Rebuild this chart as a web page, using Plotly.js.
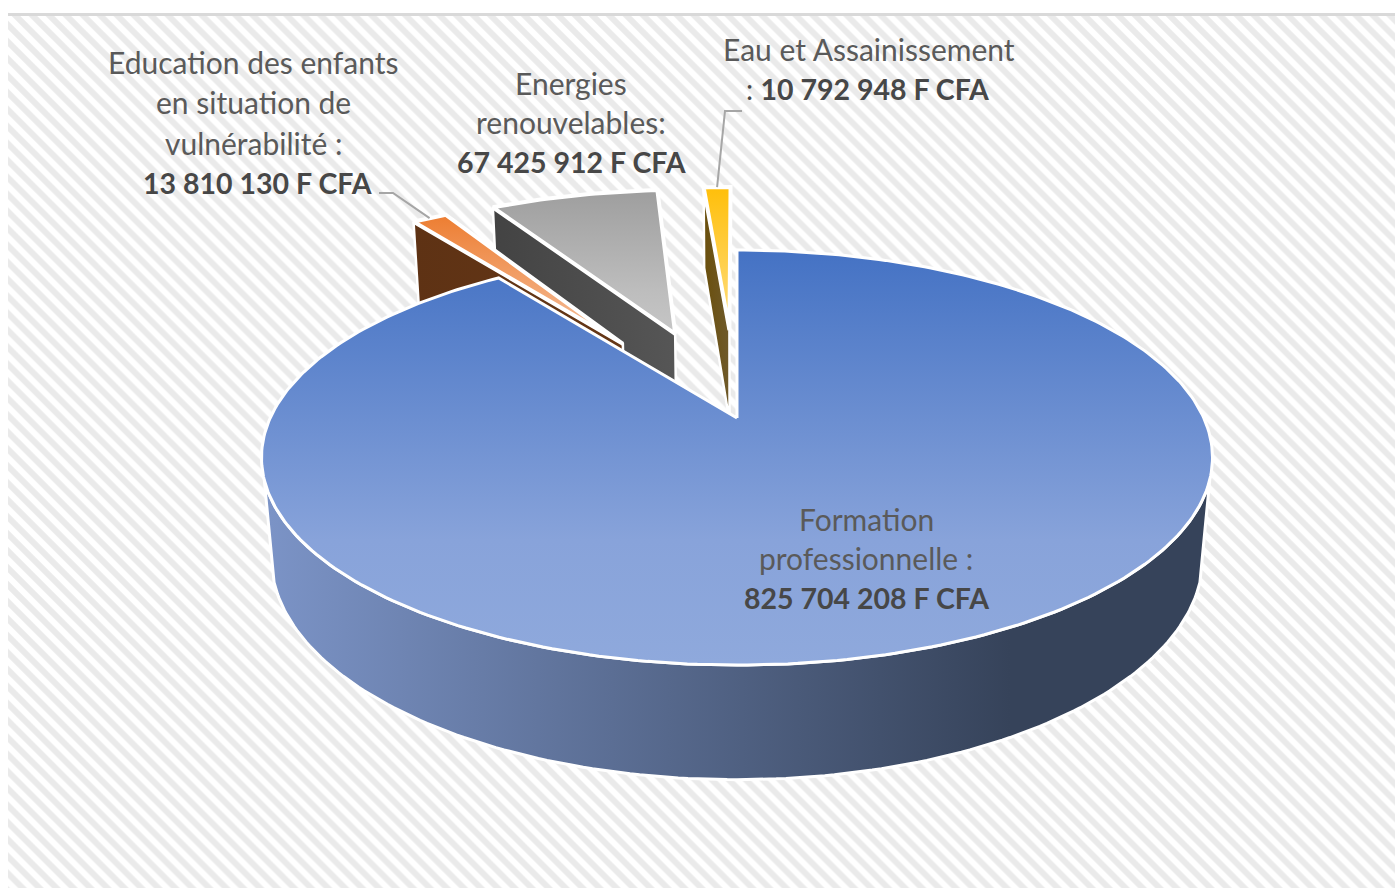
<!DOCTYPE html>
<html><head><meta charset="utf-8">
<script src="https://cdn.plot.ly/plotly-3.0.1.min.js"></script>
<style>html,body{margin:0;padding:0;background:#fff}#c{width:1395px;height:888px}</style>
</head><body><div id="c"></div>
<script>
// ---- data ----
const categories = ["Formation professionnelle","Education des enfants en situation de vulnérabilité","Energies renouvelables","Eau et Assainissement"];
const values = [825704208, 13810130, 67425912, 10792948];
const exploded = [0, 0.478, 0.48, 0.48];
const topColors = [["#4472C4","#88A3DA","#8FA9DC"],["#ED7D31","#F3AE80","#F6BE97"],["#9E9E9E","#BDBDBD","#C6C6C6"],["#FFBF0A","#FFD55F","#FFDD7A"]];
const wallColors = [["#7B93C6","#36435A"],["#5E3214","#653717"],["#434343","#565656"],["#6A4F0C","#6F5A2B"]];
const labelLines = [
  [["Formation",866,519],["professionnelle :",866,558],["<b>825 704 208 F CFA</b>",866,598]],
  [["Education des enfants",253,62],["en situation de",253,102],["vulnérabilité :",253,143],["<b>13 810 130 F CFA</b>",257,183]],
  [["Energies",571,83],["renouvelables:",571,122],["<b>67 425 912 F CFA</b>",571,162]],
  [["Eau et Assainissement",869,49],[": <b>10 792 948 F CFA</b>",867,89]]
];
// ---- view ----
const view = {cx:737, cy:418, R:466.8, H:200, k:0.1905, h:100, m:0.02};
const proj = (u,v,z) => { const w = 1+view.k*v+view.m*z;
  return [view.cx+view.R*u/w, view.cy-(view.H*v-view.h*z)/w]; };
const rad = d => d*Math.PI/180;
const total = values.reduce((a,b)=>a+b,0);
let acc = 0;
const slices = values.map((val,i)=>{ const t0=acc/total*360; acc+=val; const t1=acc/total*360;
  const b=rad((t0+t1)/2), e=exploded[i];
  return {t0,t1,ou:e*Math.sin(b),ov:e*Math.cos(b)}; });
const pt = (s,t,r,z) => proj(s.ou+r*Math.sin(rad(t)), s.ov+r*Math.cos(rad(t)), z);
const arc = (s,a,b,z) => { const n=Math.max(2,Math.ceil(Math.abs(b-a))), o=[];
  for(let j=0;j<=n;j++) o.push(pt(s,a+(b-a)*j/n,1,z)); return o; };
const scale = g => g.length===3 ? [[0,g[0]],[0.7,g[1]],[1,g[2]]] : [[0,g[0]],[1,g[1]]];
const poly = (pts,grad,lw,type,start,stop) => ({
  type:'scatter', mode:'lines', x:pts.map(p=>p[0]), y:pts.map(p=>p[1]), fill:'toself',
  fillgradient:{type:type, colorscale:scale(grad), start:start, stop:stop},
  line:{color:'#ffffff',width:lw}, hoverinfo:'skip', showlegend:false });
const topFace = i => { const s=slices[i], a=arc(s,s.t0,s.t1,0), c=pt(s,0,0,0);
  const P=[c,...a,c], ys=P.map(p=>p[1]);
  return poly(P,topColors[i],i===0?3:4,'vertical',Math.min(...ys),Math.max(...ys)); };
const cutFace = i => { const s=slices[i], A=pt(s,s.t0,1,0), C=pt(s,0,0,0), C2=pt(s,0,0,1), A2=pt(s,s.t0,1,1);
  const P=[A,C,C2,A2,A], xs=P.map(p=>p[0]);
  return poly(P,wallColors[i],2.5,'horizontal',Math.min(...xs),Math.max(...xs)); };
const mainWall = () => { const s=slices[0], a=arc(s,107,253,0), b=arc(s,253,107,1);
  const P=[...a,...b,a[0]];
  return poly(P,wallColors[0],3,'horizontal',270,1010); };

// background
const hatch = {type:'scatter',mode:'lines',x:[8,1395,1395,8,8],y:[16,16,888,888,16],fill:'toself',
  fillcolor:'#ffffff',fillpattern:{shape:'\\',size:12,solidity:0.5,fgcolor:'#eaeaea',bgcolor:'#ffffff',fillmode:'replace'},
  line:{width:0},hoverinfo:'skip',showlegend:false};
// leader lines
const leader = (pts) => ({type:'scatter',mode:'lines',x:pts.map(p=>p[0]),y:pts.map(p=>p[1]),
  line:{color:'#A6A6A6',width:2},hoverinfo:'skip',showlegend:false});
const eduMid = pt(slices[1],(slices[1].t0+slices[1].t1)/2,1,0);
const eauMid = pt(slices[3],(slices[3].t0+slices[3].t1)/2,1,0);

const traces = [hatch, cutFace(2), topFace(2), cutFace(1), topFace(1), cutFace(3), topFace(3),
  leader([[379,193],[393,193],eduMid]), leader([[742,111],[725,111],eauMid]),
  mainWall(), topFace(0)];

const annotations = [];
labelLines.forEach(ls=>ls.forEach(l=>annotations.push({
  xref:'x',yref:'y',x:l[1],y:l[2],text:l[0],showarrow:false,xanchor:'center',yanchor:'middle',
  font:{family:'Lato, "Open Sans", sans-serif',size:l[0].includes('<b>')?28.5:30,color:l[0].includes('<b>')?'#474747':'#5a5a5a'}})));

Plotly.newPlot('c',traces,{
  width:1395,height:888,margin:{l:0,r:0,t:0,b:0},
  paper_bgcolor:'#ffffff',plot_bgcolor:'#ffffff',showlegend:false,
  xaxis:{range:[0,1395],visible:false,fixedrange:true},
  yaxis:{range:[888,0],visible:false,fixedrange:true},
  shapes:[{type:'rect',xref:'x',yref:'y',x0:8,x1:1395,y0:13,y1:16,fillcolor:'#d9d9d9',line:{width:0}}],
  annotations:annotations
},{displayModeBar:false,staticPlot:true});
</script></body></html>
